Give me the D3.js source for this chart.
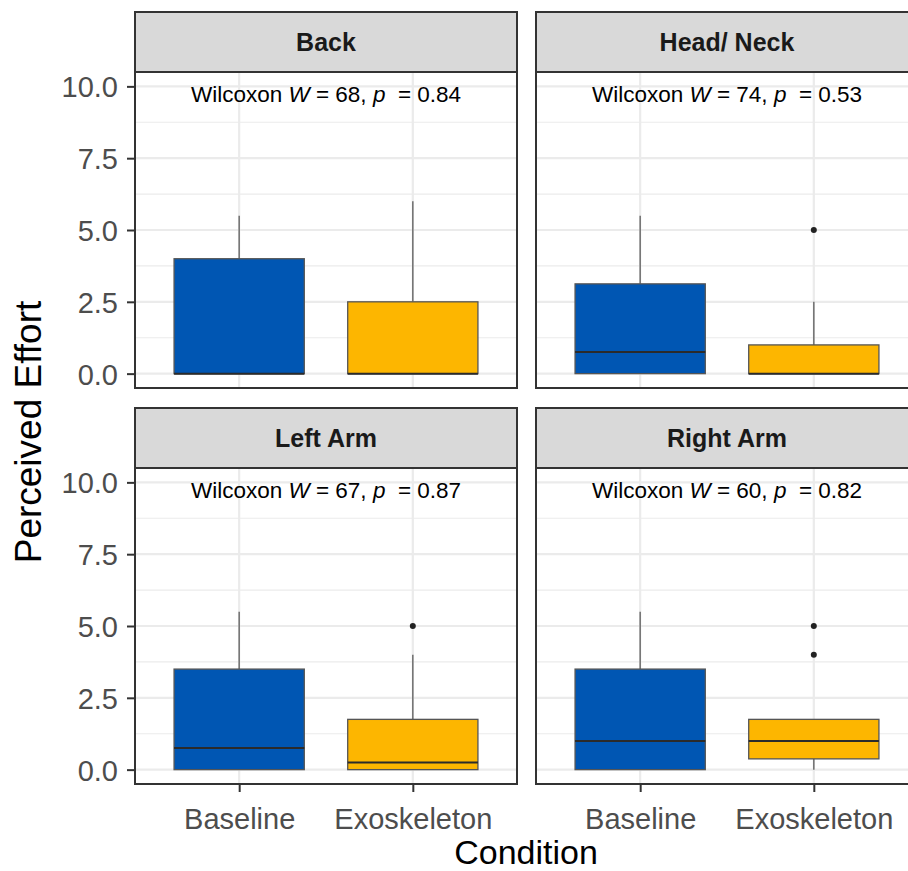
<!DOCTYPE html>
<html>
<head>
<meta charset="utf-8">
<script src="https://cdn.jsdelivr.net/npm/d3@7/dist/d3.min.js"></script>
<style>
  html, body { margin: 0; padding: 0; background: #fff; }
  svg { display: block; font-family: "Liberation Sans", Arial, sans-serif; }
  text { white-space: pre; }
</style>
</head>
<body>
<svg id="chart" width="908" height="871"></svg>
<script>
// ---- data ----
const facets = ["Back", "Head/ Neck", "Left Arm", "Right Arm"];
const conditions = ["Baseline", "Exoskeleton"];
const lowerWhisker = [[0, 0], [0, 0], [0, 0], [0, 0]];
const q1 = [[0, 0], [0, 0], [0, 0], [0, 0.375]];
const median = [[0, 0], [0.75, 0], [0.75, 0.25], [1, 1]];
const q3 = [[4, 2.5], [3.125, 1], [3.5, 1.75], [3.5, 1.75]];
const upperWhisker = [[5.5, 6], [5.5, 2.5], [5.5, 4], [5.5, 1.75]];
const outliers = [[[], []], [[], [5]], [[], [5]], [[], [4, 5]]];
const wilcoxonW = [68, 74, 67, 60];
const pValues = ["0.84", "0.53", "0.87", "0.82"];
const yTicks = [0, 2.5, 5, 7.5, 10];
const yMinor = [1.25, 3.75, 6.25, 8.75];
const yLabel = "Perceived Effort";
const xLabel = "Condition";
const fillColors = ["#0056B3", "#FDB600"];

// ---- layout ----
const svg = d3.select("#chart");
const colX = [135, 536];
const panelW = 382;
const rowTop = [12, 408];
const stripH = 60;
const panelH = 316;

const y = d3.scaleLinear().domain([-0.5, 10.5]);
const x = d3.scalePoint().domain(conditions).padding(0.6);

facets.forEach((f, i) => {
  const col = i % 2, row = Math.floor(i / 2);
  const x0 = colX[col];
  const sTop = rowTop[row];
  const pTop = sTop + stripH;
  const g = svg.append("g").attr("transform", `translate(${x0},${pTop})`);
  y.range([panelH, 0]);
  x.range([0, panelW]);
  const step = x.step();
  const bw = step * 0.75;

  // background / grid
  g.append("rect").attr("width", panelW).attr("height", panelH).attr("fill", "#fff");
  g.selectAll(".minor").data(yMinor).join("line")
    .attr("x1", 0).attr("x2", panelW)
    .attr("y1", d => y(d)).attr("y2", d => y(d))
    .attr("stroke", "#ebebeb").attr("stroke-width", 1.2);
  g.selectAll(".major").data(yTicks).join("line")
    .attr("x1", 0).attr("x2", panelW)
    .attr("y1", d => y(d)).attr("y2", d => y(d))
    .attr("stroke", "#ebebeb").attr("stroke-width", 2.2);
  g.selectAll(".vmajor").data(conditions).join("line")
    .attr("x1", d => x(d)).attr("x2", d => x(d))
    .attr("y1", 0).attr("y2", panelH)
    .attr("stroke", "#ebebeb").attr("stroke-width", 2.2);

  // boxes
  conditions.forEach((c, j) => {
    const cx = x(c);
    g.append("line").attr("x1", cx).attr("x2", cx)
      .attr("y1", y(q3[i][j])).attr("y2", y(upperWhisker[i][j]))
      .attr("stroke", "#6e6e6e").attr("stroke-width", 1.5);
    g.append("line").attr("x1", cx).attr("x2", cx)
      .attr("y1", y(q1[i][j])).attr("y2", y(lowerWhisker[i][j]))
      .attr("stroke", "#6e6e6e").attr("stroke-width", 1.5);
    g.append("rect")
      .attr("x", cx - bw / 2).attr("width", bw)
      .attr("y", y(q3[i][j])).attr("height", y(q1[i][j]) - y(q3[i][j]))
      .attr("fill", fillColors[j]).attr("stroke", "#555").attr("stroke-width", 1.3);
    g.append("line")
      .attr("x1", cx - bw / 2).attr("x2", cx + bw / 2)
      .attr("y1", y(median[i][j])).attr("y2", y(median[i][j]))
      .attr("stroke", "#2b2b2b").attr("stroke-width", 2);
    g.selectAll(null).data(outliers[i][j]).join("circle")
      .attr("cx", cx).attr("cy", d => y(d)).attr("r", 3)
      .attr("fill", "#222");
  });

  // annotation
  const ann = g.append("text")
    .attr("x", panelW / 2).attr("y", y(10) + 16)
    .attr("text-anchor", "middle")
    .attr("font-size", 22.5).attr("fill", "#000");
  ann.append("tspan").text("Wilcoxon ");
  ann.append("tspan").attr("font-style", "italic").text("W");
  ann.append("tspan").text(` = ${wilcoxonW[i]}, `);
  ann.append("tspan").attr("font-style", "italic").text("p");
  ann.append("tspan").text(`  = ${pValues[i]}`);

  // panel border
  g.append("rect").attr("width", panelW).attr("height", panelH)
    .attr("fill", "none").attr("stroke", "#333").attr("stroke-width", 2);

  // strip
  const sg = svg.append("g").attr("transform", `translate(${x0},${sTop})`);
  sg.append("rect").attr("width", panelW).attr("height", stripH)
    .attr("fill", "#d9d9d9").attr("stroke", "#333").attr("stroke-width", 2);
  sg.append("text").attr("x", panelW / 2).attr("y", stripH / 2 + 9)
    .attr("text-anchor", "middle").attr("font-weight", "bold")
    .attr("font-size", 25).attr("fill", "#1a1a1a").text(f);

  // axes
  if (col === 0) {
    const ax = g.append("g")
      .call(d3.axisLeft(y).tickValues(yTicks).tickFormat(d3.format(".1f")).tickSize(7).tickPadding(6));
    ax.select(".domain").remove();
    ax.selectAll(".tick line").attr("stroke", "#333").attr("stroke-width", 2).attr("transform", "translate(-1,0)");
    ax.selectAll(".tick text").attr("font-size", 29).attr("fill", "#4d4d4d")
      .attr("font-family", "Liberation Sans, Arial, sans-serif").attr("dy", "0.36em").attr("x", -17);
  }
  if (row === 1) {
    const ax = g.append("g").attr("transform", `translate(0,${panelH})`)
      .call(d3.axisBottom(x).tickSize(7).tickPadding(6));
    ax.select(".domain").remove();
    ax.selectAll(".tick line").attr("stroke", "#333").attr("stroke-width", 2).attr("transform", "translate(0,1)");
    ax.selectAll(".tick text").attr("font-size", 29).attr("fill", "#4d4d4d")
      .attr("font-family", "Liberation Sans, Arial, sans-serif").attr("dy", 0).attr("y", 45);
  }
});

// axis titles
svg.append("text").attr("x", 526).attr("y", 864)
  .attr("text-anchor", "middle").attr("font-size", 34).attr("fill", "#000").text(xLabel);
svg.append("text").attr("transform", "translate(41,432) rotate(-90)")
  .attr("text-anchor", "middle").attr("font-size", 37).attr("fill", "#000").text(yLabel);
</script>
</body>
</html>
